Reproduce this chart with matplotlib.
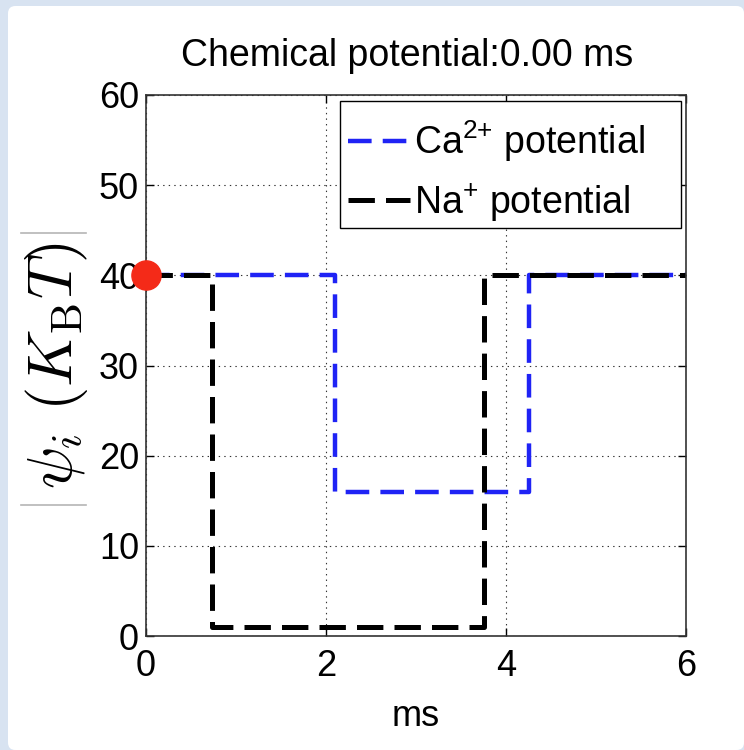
import matplotlib
matplotlib.use("Agg")
import matplotlib.pyplot as plt
from matplotlib.patches import FancyBboxPatch, Rectangle
from matplotlib.lines import Line2D

# step traces: each value holds from its time until the next one
ca_t = [0.0, 2.1, 4.25, 6.0]
ca_v = [40, 16, 40, 40]
na_t = [0.0, 0.73, 3.75, 6.0]
na_v = [40, 1, 40, 40]

# current time marker
now_t = [0.0]
now_v = [40]

x_ticks = [0, 2, 4, 6]
y_ticks = [0, 10, 20, 30, 40, 50, 60]

plt.rcParams['font.family'] = ['Liberation Sans', 'DejaVu Sans']
plt.rcParams['mathtext.fontset'] = 'custom'
plt.rcParams['mathtext.rm'] = 'Liberation Sans'
plt.rcParams['mathtext.it'] = 'Liberation Sans:italic'
plt.rcParams['lines.scale_dashes'] = False

fig = plt.figure(figsize=(7.44, 7.5), dpi=100)
fig.patch.set_facecolor('#d8e3f1')

# white slide panel
panel = FancyBboxPatch((8 / 744, 0.0), 1.0 - 8 / 744, 744 / 750,
                       boxstyle='round,pad=0,rounding_size=0.01',
                       transform=fig.transFigure, facecolor='white',
                       edgecolor='none', zorder=-5)
fig.add_artist(panel)

ax = fig.add_axes([146 / 744, 114 / 750, 540 / 744, 541 / 750])

ax.step(ca_t, ca_v, where='post', color='#1f23f5', lw=3.2, dashes=(17, 8),
        label='Ca$^{\\mathrm{2{+}}}$ potential')
ax.step(na_t, na_v, where='post', color='black', lw=3.6, dashes=(19, 8),
        label='Na$^{\\mathrm{{+}}}$ potential')
ax.plot(now_t, now_v, 'o', color='#f42a18', ms=21, clip_on=False, zorder=5)

ax.set_xlim(0, 6)
ax.set_ylim(0, 60)
ax.set_xticks(x_ticks)
ax.set_yticks(y_ticks)
ax.grid(True, linestyle=(0, (1, 3)), color='#333333', lw=0.8)
ax.tick_params(direction='in', length=6, width=1, top=True, right=True,
               labelsize=26, colors='black')
ax.tick_params(axis='x', pad=9)
ax.tick_params(axis='y', pad=5)
for sp in ax.spines.values():
    sp.set_linewidth(1.2)
    sp.set_color('#333333')

ax.set_title('Chemical potential:0.00 ms', fontsize=27, pad=21, x=0.484)
ax.set_xlabel('ms', fontsize=26, labelpad=11)
ylab = ax.set_ylabel(r'$\psi_i\ (K_\mathrm{B}T)$', fontsize=45,
                     math_fontfamily='cm', labelpad=6)

# legend box drawn separately so the entries can sit a little lower in it
ax.add_patch(Rectangle((0.3593, 0.7542), 0.6315, 0.2348,
                       transform=ax.transAxes, facecolor='white',
                       edgecolor='black', lw=1.0, zorder=4.5))
leg = ax.legend(loc='upper left', bbox_to_anchor=(0.374, 0.957),
                borderaxespad=0, borderpad=0, frameon=False, fontsize=27,
                handlelength=1.65, handletextpad=0.1, labelspacing=0.47)

# faint absolute-value bars at both ends of the y label
fig.canvas.draw()
bb = ylab.get_window_extent()
to_fig = fig.transFigure.inverted()
for yb in (bb.y1 + 9, bb.y0 - 16):
    (x0, y0), (x1, _) = to_fig.transform([(bb.x0 - 2, yb), (bb.x1 - 4, yb)])
    fig.add_artist(Line2D([x0, x1], [y0, y0], transform=fig.transFigure,
                          color='#b5b5b5', lw=1.2))

fig.savefig('out.png', dpi=100)
